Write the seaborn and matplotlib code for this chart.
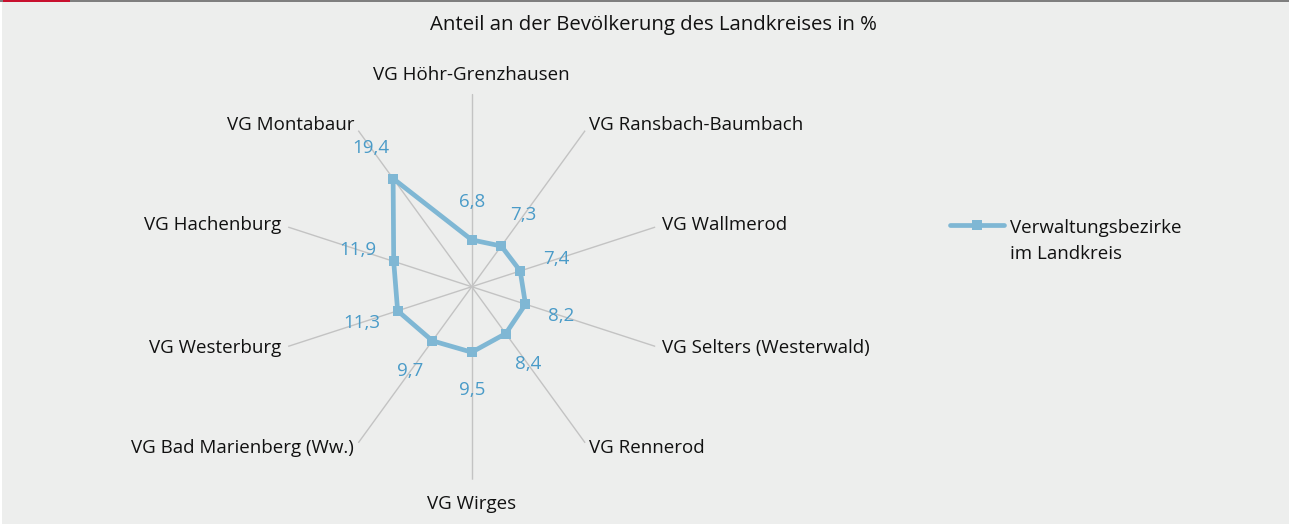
import numpy as np
import pandas as pd
import seaborn as sns
import matplotlib.pyplot as plt
from matplotlib.patches import Rectangle

categories = ["VG Höhr-Grenzhausen", "VG Ransbach-Baumbach", "VG Wallmerod",
              "VG Selters (Westerwald)", "VG Rennerod", "VG Wirges",
              "VG Bad Marienberg (Ww.)", "VG Westerburg", "VG Hachenburg",
              "VG Montabaur"]
values = [6.8, 7.3, 7.4, 8.2, 8.4, 9.5, 9.7, 11.3, 11.9, 19.4]
value_labels = ["6,8", "7,3", "7,4", "8,2", "8,4", "9,5", "9,7", "11,3", "11,9", "19,4"]
series_name = "Verwaltungsbezirke\nim Landkreis"
title = "Anteil an der Bevölkerung des Landkreises in %"

bg = "#edeeed"
line_col = "#7fb7d4"
lab_col = "#4a9bc8"
txt_col = "#111111"
rmax = 28
fs = 13.5

sns.set_style("white")
plt.rcParams["font.family"] = ["Open Sans", "DejaVu Sans"]

n = len(categories)
theta = np.linspace(0, 2 * np.pi, n, endpoint=False)
df = pd.DataFrame({"theta": np.append(theta, 2 * np.pi),
                   "value": values + values[:1]})

fig = plt.figure(figsize=(12.89, 5.24), dpi=100, facecolor=bg)
ax = fig.add_axes([0.2162, 0.0845, 0.2995, 0.7366], projection="polar")
ax.set_theta_offset(np.pi / 2)
ax.set_theta_direction(-1)
ax.set_facecolor("none")
ax.set_ylim(0, rmax)
ax.grid(False)
ax.spines["polar"].set_visible(False)
ax.set_xticks([])
ax.set_yticks([])

# spokes
for t in theta:
    ax.plot([t, t], [0, rmax], color="#c3c3c3", lw=1.0, zorder=1)

sns.lineplot(data=df, x="theta", y="value", sort=False, ax=ax, color=line_col,
             lw=3.4, marker="s", markersize=7.5, markeredgewidth=0,
             label=series_name, zorder=3)
ax.set_xlabel("")
ax.set_ylabel("")

# value labels
for t, v, s in zip(theta, values, value_labels):
    ax.text(t, v + 5.5, s, color=lab_col, fontsize=fs, ha="center", va="center")

# category labels
for t, c in zip(theta, categories):
    deg = np.degrees(t)
    if np.isclose(deg, 0):
        ax.text(t, rmax + 1.45, c, ha="center", va="bottom", fontsize=fs, color=txt_col)
    elif np.isclose(deg, 180):
        ax.text(t, rmax + 2.2, c, ha="center", va="top", fontsize=fs, color=txt_col)
    elif deg < 180:
        ax.text(t, rmax + 1.0, c, ha="left", va="center", fontsize=fs, color=txt_col)
    else:
        ax.text(t, rmax + 1.0, c, ha="right", va="center", fontsize=fs, color=txt_col)

ax.legend().remove()
leg = fig.legend(*ax.get_legend_handles_labels(), loc="upper left",
                 bbox_to_anchor=(933 / 1289, 1 - 202 / 524), frameon=False,
                 fontsize=fs, handlelength=2.9, handletextpad=0.28)
for txt in leg.get_texts():
    txt.set_linespacing(1.55)
    txt.set_color(txt_col)
# keep the marker on the first text line
for col in leg._legend_handle_box.get_children():
    for row in col.get_children():
        row.align = "top"

fig.text(653 / 1289, 1 - 25 / 524, title, ha="center", va="center",
         fontsize=14.7, color=txt_col)

# top rule with red accent
fig.add_artist(Rectangle((0, 1 - 2 / 524), 1, 2 / 524, transform=fig.transFigure,
                         color="#7f7f7f", lw=0))
fig.add_artist(Rectangle((3 / 1289, 1 - 2 / 524), 67 / 1289, 2 / 524,
                         transform=fig.transFigure, color="#c8102e", lw=0))
fig.add_artist(Rectangle((0, 0), 2 / 1289, 1 - 2 / 524, transform=fig.transFigure,
                         color="white", lw=0))

fig.savefig("out.png", dpi=100, facecolor=bg)
